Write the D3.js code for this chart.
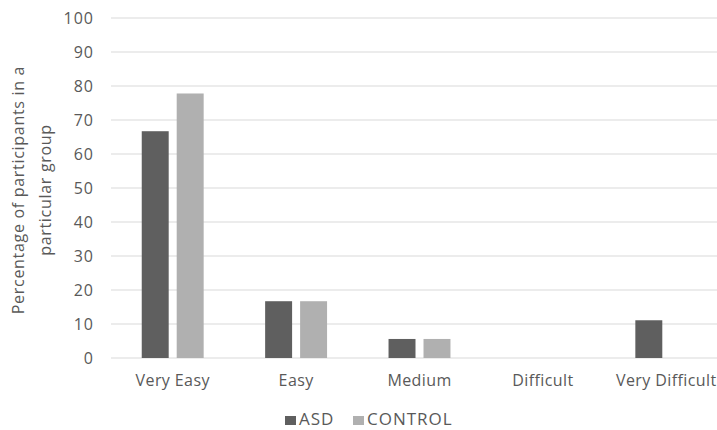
<!DOCTYPE html>
<html>
<head>
<meta charset="utf-8">
<script src="https://cdn.jsdelivr.net/npm/d3@7"></script>
<style>
  html, body { margin: 0; padding: 0; background: #fff; }
  svg text { font-family: "Open Sans", "DejaVu Sans", sans-serif; fill: #595959; }
</style>
</head>
<body>
<svg id="chart" width="717" height="430"></svg>
<script>
// Difficulty ratings by group (percent of participants)
const categories = ["Very Easy", "Easy", "Medium", "Difficult", "Very Difficult"];
const seriesNames = ["ASD", "CONTROL"];
const asdValues = [66.7, 16.7, 5.6, 0, 11.1];
const controlValues = [77.8, 16.7, 5.6, 0, 0];
const yTicks = [0, 10, 20, 30, 40, 50, 60, 70, 80, 90, 100];
const colors = ["#5f5f5f", "#b0b0b0"];

const svg = d3.select("#chart");
const W = 717, H = 430;
const x0 = 111, x1 = 728;
const yTop = 18, yBot = 358;

const x = d3.scaleBand().domain(categories).range([x0, x1]).paddingInner(0).paddingOuter(0);
const xs = d3.scaleBand().domain(seriesNames).range([0, x.bandwidth()]).paddingInner(0.229).paddingOuter(0.879);
const y = d3.scaleLinear().domain([0, 100]).range([yBot, yTop]);

// gridlines
svg.append("g").selectAll("line").data(yTicks).join("line")
  .attr("x1", x0).attr("x2", x1)
  .attr("y1", d => y(d)).attr("y2", d => y(d))
  .attr("stroke", "#d9d9d9").attr("stroke-width", 1.2);

// y tick labels
const yAxis = d3.axisLeft(y).tickValues(yTicks).tickSize(0).tickPadding(0);
const gy = svg.append("g").attr("transform", `translate(${x0 - 17},0)`).call(yAxis);
gy.select(".domain").remove();
gy.selectAll("text").attr("font-size", 16).attr("letter-spacing", 1)
  .style("font-family", '"Open Sans", sans-serif').attr("fill", "#595959");

// bars
const rows = categories.map((c, i) => ({ cat: c, vals: [asdValues[i], controlValues[i]] }));
const groups = svg.append("g").selectAll("g").data(rows).join("g")
  .attr("transform", d => `translate(${x(d.cat)},0)`);
groups.selectAll("rect")
  .data(d => d.vals.map((v, j) => ({ s: seriesNames[j], v, j })).filter(e => e.v > 0))
  .join("rect")
  .attr("x", e => xs(e.s))
  .attr("width", xs.bandwidth())
  .attr("y", e => y(e.v))
  .attr("height", e => y(0) - y(e.v))
  .attr("fill", e => colors[e.j]);

// x category labels
const xAxis = d3.axisBottom(x).tickSize(0).tickPadding(0);
const gx = svg.append("g").attr("transform", `translate(0,${yBot + 17})`).call(xAxis);
gx.select(".domain").remove();
gx.selectAll("text").attr("font-size", 16).attr("letter-spacing", 0.4)
  .style("font-family", '"Open Sans", sans-serif').attr("fill", "#595959");

// y axis title
const title = svg.append("text")
  .attr("transform", `translate(24,190) rotate(-90)`)
  .attr("text-anchor", "middle").attr("font-size", 16).attr("letter-spacing", 0.7);
title.append("tspan").attr("x", 0).attr("dy", 0).text("Percentage of participants in a");
title.append("tspan").attr("x", 0).attr("dy", 27).text("particular group");

// legend
const legend = svg.append("g").attr("transform", "translate(285,425)");
const items = [{ name: seriesNames[0], dx: 0 }, { name: seriesNames[1], dx: 68 }];
items.forEach((it, i) => {
  const g = legend.append("g").attr("transform", `translate(${it.dx},0)`);
  g.append("rect").attr("x", 0).attr("y", -9).attr("width", 11).attr("height", 9).attr("fill", colors[i]);
  g.append("text").attr("x", 14).attr("y", 0).attr("font-size", 17).attr("letter-spacing", 1).text(it.name);
});
</script>
</body>
</html>
